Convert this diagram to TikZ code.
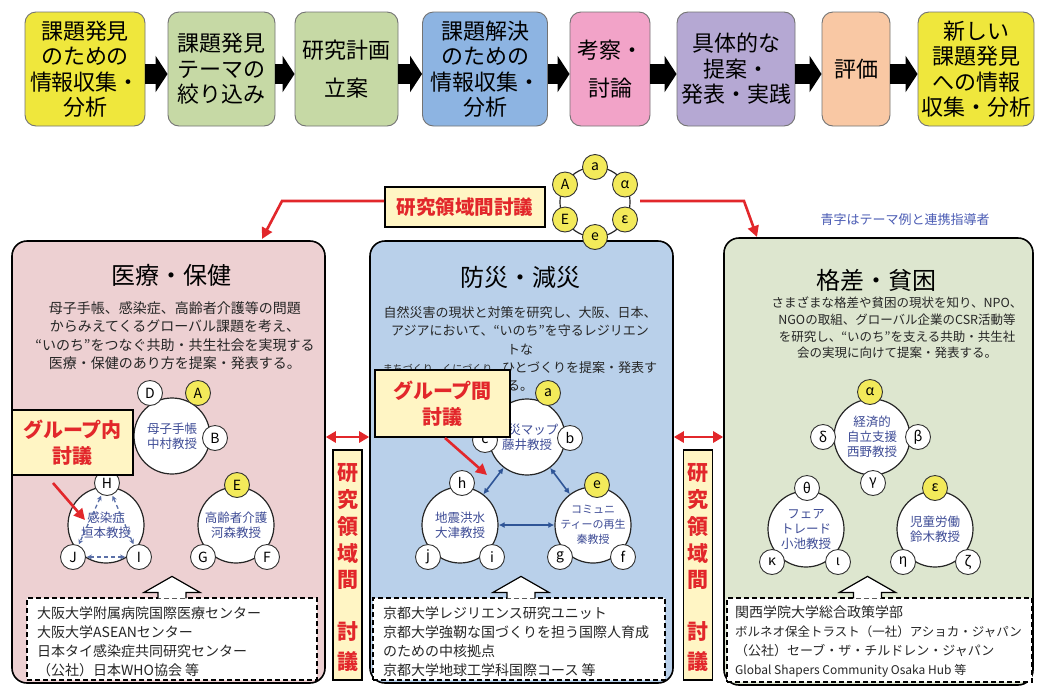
\documentclass[tikz,border=0pt]{standalone}
\usepackage{fontspec}
\setmainfont{Noto Sans CJK JP}
\usetikzlibrary{arrows.meta,calc}
\definecolor{cYel}{HTML}{EFE73C}
\definecolor{cGrn}{HTML}{C6D9A5}
\definecolor{cBlu}{HTML}{8DB4E2}
\definecolor{cPnk}{HTML}{F2A3C8}
\definecolor{cPur}{HTML}{B5A8D3}
\definecolor{cPch}{HTML}{F9C8A4}
\definecolor{pPnk}{HTML}{EDD0D2}
\definecolor{pBlu}{HTML}{B9D0EA}
\definecolor{pGrn}{HTML}{DDE6CF}
\definecolor{cCrm}{HTML}{FFF5C4}
\definecolor{cRed}{HTML}{E2272B}
\definecolor{cTxb}{HTML}{3E4C96}
\definecolor{cNote}{HTML}{4C5DB5}
\definecolor{cArb}{HTML}{2F5597}
\definecolor{cDsh}{HTML}{5B70A8}
\definecolor{cSy}{HTML}{F3EA5A}
\newcommand\myfs[2]{\fontsize{#1}{#2}\selectfont}
\begin{document}
\begin{tikzpicture}[x=1pt,y=-1pt,
 topbox/.style={draw=black!55, line width=0.9pt, rounded corners=11pt, align=center, inner sep=0pt, minimum height=114pt, font=\myfs{22}{25.5}},
 blockarr/.style={line width=20pt, black, -{Triangle[width=36pt,length=12pt]}},
 panel/.style={draw=black, line width=1.6pt, rounded corners=15pt, inner sep=0pt},
 ptitle/.style={font=\myfs{24}{28}, inner sep=0pt},
 pbody/.style={align=center, inner sep=0pt, text=black!85},
 callout/.style={draw=black, line width=1.8pt, fill=cCrm, text=cRed, align=center, inner sep=0pt, font=\bfseries\myfs{20}{26}},
 vbox/.style={draw=black, line width=1.6pt, fill=cCrm, inner sep=0pt, minimum width=29pt, minimum height=230pt},
 vchar/.style={text=cRed, font=\bfseries\myfs{21}{21}, inner sep=0pt},
 redarr/.style={cRed, line width=2.6pt, -{Triangle[width=11pt,length=11pt]}},
 redarrb/.style={cRed, line width=2.6pt, {Triangle[width=11pt,length=10pt]}-{Triangle[width=11pt,length=10pt]}},
 bigc/.style={circle, draw=black!85, line width=1.2pt, fill=white, minimum size=76pt, inner sep=0pt, align=center, text=cTxb, font=\myfs{12.5}{15}},
 smc/.style={circle, draw=black!80, line width=0.9pt, fill=white, minimum size=25pt, inner sep=0pt, font=\myfs{14}{14}},
 ysmc/.style={smc, fill=cSy},
 dbox/.style={draw=black, dash pattern=on 5pt off 3pt, line width=1.2pt, fill=white, inner sep=0pt},
 dtext/.style={align=left, inner sep=0pt, anchor=west, text=black!85, font=\myfs{14}{19}},
 hollow/.style={draw=black, line width=1.2pt, fill=white},
 dasharr/.style={cDsh, line width=1.3pt, dash pattern=on 4pt off 3pt, {Stealth[length=5pt,width=5pt]}-{Stealth[length=5pt,width=5pt]}, shorten <=1pt, shorten >=1pt},
 bluarr/.style={cArb, line width=1.6pt, {Latex[length=6pt,width=6pt]}-{Latex[length=6pt,width=6pt]}}
]
\useasboundingbox (0,0) rectangle (1039,689);
\fill[white] (0,0) rectangle (1039,689);

% ---------- top flow ----------
\node[topbox, fill=cYel, minimum width=120pt] (b1) at (85,69) {課題発見\\のための\\情報収集・\\分析};
\node[topbox, fill=cGrn, minimum width=107pt] (b2) at (221.5,69) {課題発見\\テーマの\\絞り込み};
\node[topbox, fill=cGrn, minimum width=103pt] (b3) at (346.5,69) {研究計画\\[13pt]立案};
\node[topbox, fill=cBlu, minimum width=125pt] (b4) at (485,69) {課題解決\\のための\\情報収集・\\分析};
\node[topbox, fill=cPnk, minimum width=80pt] (b5) at (610,69) {考察・\\[13pt]討論};
\node[topbox, fill=cPur, minimum width=118pt] (b6) at (736,69) {具体的な\\提案・\\発表・実践};
\node[topbox, fill=cPch, minimum width=68pt] (b7) at (856,69) {評価};
\node[topbox, fill=cYel, minimum width=116pt] (b8) at (976,69) {新しい\\課題発見\\への情報\\収集・分析};
\foreach \a/\b in {b1/b2,b2/b3,b3/b4,b4/b5,b5/b6,b6/b7,b7/b8}
  \draw[blockarr] ([yshift=-5pt]\a.east) -- ([yshift=-5pt]\b.west);

% ---------- panels ----------
\node[panel, fill=pPnk, minimum width=313pt, minimum height=442pt] (P1) at (168.5,462) {};
\node[panel, fill=pBlu, minimum width=303pt, minimum height=442pt] (P2) at (521.5,462) {};
\node[panel, fill=pGrn, minimum width=309pt, minimum height=447pt] (P3) at (878.5,461.5) {};

\node[ptitle] (T1) at (171,275) {医療・保健};
\node[ptitle] (T2) at (520,277) {防災・減災};
\node[ptitle] (T3) at (876,280) {格差・貧困};

\node[pbody, font=\myfs{14}{18.4}] (B1) at (175,335.5) {母子手帳、感染症、高齢者介護等の問題\\からみえてくるグローバル課題を考え、\\“いのち”をつなぐ共助・共生社会を実現する\\医療・保健のあり方を提案・発表する。};
\node[pbody, font=\myfs{13}{18.2}] (B2) at (520,349) {自然災害の現状と対策を研究し、大阪、日本、\\アジアにおいて、“いのち”を守るレジリエン\\トな\\{\myfs{10}{18.2}まちづくり、くにづくり、}ひとづくりを提案・発表す\\る。};
\node[pbody, font=\myfs{12.5}{16.7}] (B3) at (897,328) {さまざまな格差や貧困の現状を知り、NPO、\\NGOの取組、グローバル企業のCSR活動等\\を研究し、“いのち”を支える共助・共生社\\会の実現に向けて提案・発表する。};

\node[font=\myfs{13}{13}, text=cNote, inner sep=0pt] (note) at (905,220) {青字はテーマ例と連携指導者};

% ---------- groups: left ----------
\node[bigc] (g1) at (172,436) {母子手帳\\中村教授};
\node[smc] (g1d) at (150,393) {D};
\node[ysmc] (g1a) at (198,393) {A};
\node[smc] (g1b) at (215,438) {B};

\node[bigc] (g2) at (106,525) {感染症\\垣本教授};
\node[smc] (g2h) at (107,483) {H};
\node[smc] (g2j) at (73,557) {J};
\node[smc] (g2i) at (139,557) {I};
\draw[dasharr] (g2h) -- (g2j);
\draw[dasharr] (g2h) -- (g2i);
\draw[dasharr] (g2j) -- (g2i);

\node[bigc] (g3) at (236,525) {高齢者介護\\河森教授};
\node[ysmc] (g3e) at (237,485) {E};
\node[smc] (g3g) at (203,557) {G};
\node[smc] (g3f) at (267,557) {F};

% ---------- groups: middle ----------
\node[bigc] (g4) at (527,437) {防災マップ\\藤井教授};
\node[ysmc] (g4a) at (548,393) {a};
\node[smc] (g4b) at (570,438) {b};
\node[smc] (g4c) at (485,440) {c};

\node[bigc] (g5) at (460,525) {地震洪水\\大津教授};
\node[smc] (g5h) at (462,483) {h};
\node[smc] (g5j) at (428,557) {j};
\node[smc] (g5i) at (492,557) {i};

\node[bigc, font=\myfs{11}{15}] (g6) at (593,525) {コミュニ\\ティーの再生\\秦教授};
\node[ysmc] (g6e) at (597,485) {e};
\node[smc] (g6g) at (560,557) {g};
\node[smc] (g6f) at (623,557) {f};

\draw[bluarr] (g4) -- (g5);
\draw[bluarr] (g4) -- (g6);
\draw[bluarr] (g5) -- (g6);

% ---------- groups: right ----------
\node[bigc] (g7) at (872,437) {経済的\\自立支援\\西野教授};
\node[ysmc] (g7al) at (870,392) {α};
\node[smc] (g7de) at (823,437) {δ};
\node[smc] (g7be) at (918,437) {β};
\node[smc] (g7ga) at (873,483) {γ};

\node[bigc] (g8) at (806,529) {フェア\\トレード\\小池教授};
\node[smc] (g8th) at (807,488) {θ};
\node[smc] (g8ka) at (772,562) {κ};
\node[smc] (g8io) at (838,562) {ι};

\node[bigc] (g9) at (935,529) {児童労働\\鈴木教授};
\node[ysmc] (g9ep) at (935,488) {ε};
\node[smc] (g9et) at (903,562) {η};
\node[smc] (g9ze) at (968,562) {ζ};

% ---------- callouts ----------
\node[callout, minimum width=121pt, minimum height=65pt] (c1) at (72.5,442.5) {グループ内\\討議};
\node[callout, minimum width=135pt, minimum height=67pt] (c2) at (442.5,403.5) {グループ間\\討議};
\coordinate (p1s) at (53,483); \coordinate (p1e) at (85,520);
\coordinate (p2s) at (445,438); \coordinate (p2e) at (487,475);
\draw[redarr] (p1s) -- (p1e);
\draw[redarr] (p2s) -- (p2e);

% ---------- dashed boxes ----------
\node[dbox, minimum width=290pt, minimum height=82pt] (d1) at (172,639) {};
\node[dbox, minimum width=292pt, minimum height=82pt] (d2) at (519,639) {};
\node[dbox, minimum width=305pt, minimum height=84pt] (d3) at (879.5,640) {};
\foreach \d/\s in {d1/0,d2/2,d3/-12}
  \draw[hollow] ($(\d.north)+(\s-14,1)$) -- ++(0,-6) -- ++(-14,0) -- ($(\d.north)+(\s,-21)$) -- ($(\d.north)+(\s+28,-5)$) -- ++(-14,0) -- ++(0,6);

\node[dtext] (d1t) at (37,641.5) {大阪大学附属病院国際医療センター\\大阪大学ASEANセンター\\日本タイ感染症共同研究センター\\（公社）日本WHO協会 等};
\node[dtext] (d2t) at (383,641.5) {京都大学レジリエンス研究ユニット\\京都大学強靭な国づくりを担う国際人育成\\のための中核拠点\\京都大学地球工学科国際コース 等};
\node[dtext, font=\myfs{13}{19}] (d3t) at (735,641.5) {{\myfs{14}{19}関西学院大学総合政策学部}\\{\myfs{12.5}{19}ボルネオ保全トラスト（一社）アショカ・ジャパン}\\（公社）セーブ・ザ・チルドレン・ジャパン\\{\myfs{12}{19}Global Shapers Community Osaka Hub 等}};

% ---------- inter-field ----------
\node[vbox] (v1) at (347.5,565) {};
\node[vbox] (v2) at (698,565) {};
\foreach \ch/\yy [count=\k] in {研/473,究/500,領/527,域/553,間/580,討/631,議/662} {
  \node[vchar] (va\k) at (347.5,\yy) {\ch};
  \node[vchar] (vb\k) at (698,\yy) {\ch};
}
\draw[redarrb] ([yshift=25pt]P1.east) -- ([yshift=25pt]P2.west);
\draw[redarrb] ([yshift=25pt]P2.east) -- ([yshift=24.5pt]P3.west);

\node[callout, minimum width=160pt, minimum height=40pt, font=\bfseries\myfs{19.5}{22}] (c0) at (465,207) {研究領域間討議};
\coordinate (k1) at (282,201); \coordinate (t1) at (262,239);
\coordinate (r0) at (640,201); \coordinate (k2) at (744,201); \coordinate (t2) at (757,237);
\draw[redarr] ([yshift=6pt]c0.west) -- (k1) -- (t1);
\draw[redarr] (r0) -- (k2) -- (t2);

% ---------- ring ----------
\node[circle, draw=black!85, line width=1.2pt, fill=white, minimum size=70pt, inner sep=0pt] (ring) at (595,202) {};
\node[ysmc] (ra) at (595,167) {a};
\node[ysmc] (ral) at (625,184.5) {α};
\node[ysmc] (rep) at (625,219.5) {ε};
\node[ysmc] (re) at (595,237) {e};
\node[ysmc] (rE) at (565,219.5) {E};
\node[ysmc] (rA) at (565,184.5) {A};
\end{tikzpicture}
\end{document}
